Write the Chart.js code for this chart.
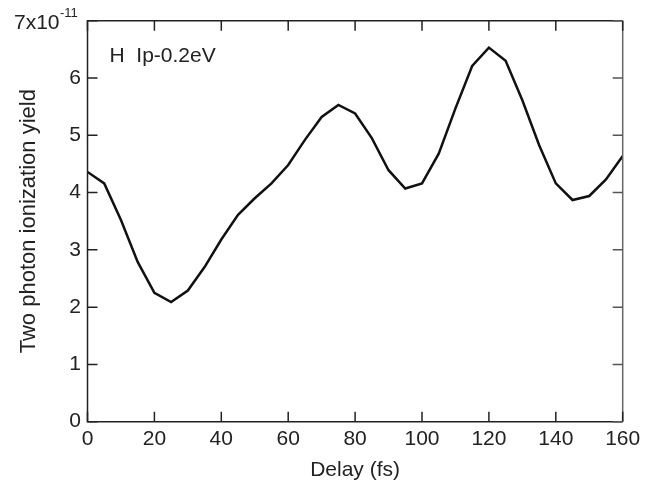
<!DOCTYPE html>
<html>
<head>
<meta charset="utf-8">
<script src="https://cdn.jsdelivr.net/npm/chart.js@4.4.1/dist/chart.umd.min.js"></script>
<style>
  html, body { margin: 0; padding: 0; background: #fff; }
  #wrap { width: 663px; height: 487px; position: relative; }
</style>
</head>
<body>
<div id="wrap"><canvas id="c" width="663" height="487"></canvas></div>
<script>
// ---- data (yield in units of 1e-11) ----
const delays = [0, 5, 10, 15, 20, 25, 30, 35, 40, 45, 50, 55, 60, 65, 70, 75, 80,
                85, 90, 95, 100, 105, 110, 115, 120, 125, 130, 135, 140, 145, 150, 155, 160];
const yieldValues = [4.36, 4.16, 3.52, 2.79, 2.25, 2.09, 2.29, 2.70, 3.18, 3.61, 3.90, 4.16, 4.48,
                     4.92, 5.32, 5.53, 5.38, 4.95, 4.39, 4.07, 4.16, 4.68, 5.47, 6.21, 6.53,
                     6.30, 5.61, 4.83, 4.16, 3.87, 3.94, 4.23, 4.64];
const xTicks = [0, 20, 40, 60, 80, 100, 120, 140, 160];
const yTicks = [0, 1, 2, 3, 4, 5, 6, 7];
const xTitle = 'Delay (fs)';
const yTitle = 'Two photon ionization yield';
const annotation = 'H  Ip-0.2eV';
const topLabelBase = '7x10';
const topLabelExp = '-11';

const FONT = '"Liberation Sans", Arial, Helvetica, sans-serif';
const AXIS = '#222';

const points = delays.map((d, i) => ({ x: d, y: yieldValues[i] }));

const framePlugin = {
  id: 'frame',
  afterDraw(chart) {
    const { ctx, chartArea: a, scales } = chart;
    const xs = scales.x, ys = scales.y;
    ctx.save();
    ctx.lineWidth = 1.5;
    ctx.strokeStyle = AXIS;
    ctx.beginPath();
    ctx.moveTo(a.right, a.top); ctx.lineTo(a.left, a.top);
    ctx.lineTo(a.left, a.bottom); ctx.lineTo(a.right, a.bottom);
    ctx.stroke();
    ctx.strokeStyle = '#666';
    ctx.beginPath();
    ctx.moveTo(a.right, a.top); ctx.lineTo(a.right, a.bottom);
    ctx.stroke();

    const tl = 10;
    ctx.strokeStyle = AXIS;
    ctx.beginPath();
    xTicks.forEach(v => {
      const px = xs.getPixelForValue(v);
      ctx.moveTo(px, a.bottom); ctx.lineTo(px, a.bottom - tl);
      ctx.moveTo(px, a.top); ctx.lineTo(px, a.top + tl);
    });
    yTicks.forEach(v => {
      const py = ys.getPixelForValue(v);
      ctx.moveTo(a.left, py); ctx.lineTo(a.left + tl, py);
    });
    ctx.stroke();
    ctx.strokeStyle = '#555';
    ctx.beginPath();
    yTicks.forEach(v => {
      const py = ys.getPixelForValue(v);
      ctx.moveTo(a.right, py); ctx.lineTo(a.right - tl, py);
    });
    ctx.stroke();

    ctx.fillStyle = '#222';
    ctx.textBaseline = 'alphabetic';
    ctx.font = '21px ' + FONT;
    ctx.textAlign = 'right';
    ctx.fillText(topLabelBase, 59.5, 29.3);
    ctx.font = '13px ' + FONT;
    ctx.textAlign = 'left';
    ctx.fillText(topLabelExp, 60, 16.7);

    ctx.font = '21px ' + FONT;
    ctx.textAlign = 'left';
    ctx.fillText(annotation, 109.5, 61.7);

    ctx.font = '21px ' + FONT;
    ctx.textAlign = 'center';
    ctx.fillText(xTitle, (a.left + a.right) / 2, 476);

    ctx.font = '22px ' + FONT;
    ctx.translate(35, (a.top + a.bottom) / 2);
    ctx.rotate(-Math.PI / 2);
    ctx.fillText(yTitle, 0, 0);
    ctx.restore();
  }
};

new Chart(document.getElementById('c'), {
  type: 'line',
  data: {
    datasets: [{
      data: points,
      borderColor: '#111',
      borderWidth: 2.5,
      pointRadius: 0,
      tension: 0,
      fill: false
    }]
  },
  options: {
    responsive: false,
    animation: false,
    devicePixelRatio: 1,
    layout: { padding: { top: 20.7, right: 40.3, left: 0, bottom: 0 } },
    plugins: { legend: { display: false }, tooltip: { enabled: false } },
    scales: {
      x: {
        type: 'linear',
        min: 0, max: 160,
        afterBuildTicks(s) { s.ticks = xTicks.map(v => ({ value: v })); },
        afterFit(s) { s.height = 65.3; },
        grid: { display: false, drawTicks: false },
        border: { display: false },
        ticks: { color: '#222', padding: 5, maxRotation: 0, autoSkip: false,
                 font: { family: FONT, size: 21 } }
      },
      y: {
        type: 'linear',
        min: 0, max: 7,
        afterBuildTicks(s) { s.ticks = yTicks.map(v => ({ value: v })); },
        afterFit(s) { s.width = 87.5; },
        grid: { display: false, drawTicks: false },
        border: { display: false },
        ticks: { color: '#222', padding: 6.5, autoSkip: false,
                 callback: v => (v === 7 ? '' : String(v)),
                 font: { family: FONT, size: 21 } }
      }
    }
  },
  plugins: [framePlugin]
});
</script>
</body>
</html>
